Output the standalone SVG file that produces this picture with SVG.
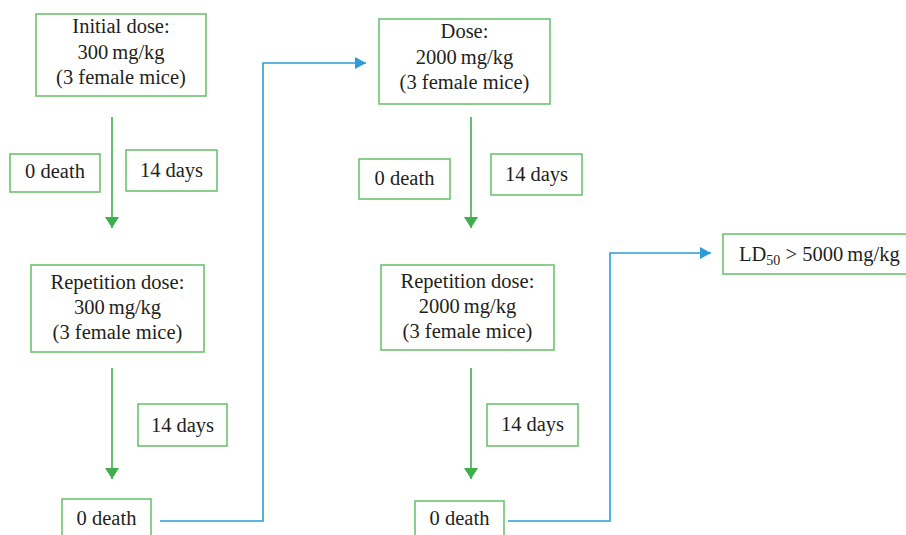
<svg xmlns="http://www.w3.org/2000/svg" width="906" height="535" viewBox="0 0 906 535">
<style>
.box{fill:#fff;stroke:#6cc46f;stroke-width:1.6}
.t{font-family:"Liberation Serif","Times New Roman",serif;font-size:20.5px;fill:#231f20;text-anchor:middle}
.g{stroke:#3fae4c;stroke-width:1.6;fill:none}
.b{stroke:#2b9cd8;stroke-width:1.6;fill:none}
</style>
<defs>
<marker id="ag" markerUnits="userSpaceOnUse" markerWidth="12" markerHeight="14" refX="11" refY="7" orient="auto"><path d="M0,0 L11,7 L0,14 z" fill="#3fae4c"/></marker>
<marker id="ab" markerUnits="userSpaceOnUse" markerWidth="12" markerHeight="12" refX="11" refY="6" orient="auto"><path d="M0,0 L11,6 L0,12 z" fill="#2b9cd8"/></marker>
</defs>
<rect width="906" height="535" fill="#fff"/>
<g id="connectors">
<line class="g" x1="112" y1="117" x2="112" y2="228" marker-end="url(#ag)"/>
<line class="g" x1="112" y1="368" x2="112" y2="479" marker-end="url(#ag)"/>
<line class="g" x1="471" y1="117" x2="471" y2="228" marker-end="url(#ag)"/>
<line class="g" x1="471" y1="368" x2="471" y2="479" marker-end="url(#ag)"/>
<path class="b" d="M160,521 H263 V63 H366" marker-end="url(#ab)"/>
<path class="b" d="M508,521 H610 V253 H711" marker-end="url(#ab)"/>
</g>
<g id="initial">
<rect class="box" x="36" y="14" width="170" height="82"/>
<text class="t" x="121" y="33">Initial dose:</text>
<text class="t" x="121" y="59">300&#8201;mg/kg</text>
<text class="t" x="121" y="84">(3 female mice)</text>
</g>
<g id="death1">
<rect class="box" x="10" y="154" width="90" height="38"/>
<text class="t" x="55" y="178">0 death</text>
</g>
<g id="days1">
<rect class="box" x="126" y="150" width="91" height="41"/>
<text class="t" x="171.5" y="177">14 days</text>
</g>
<g id="rep1">
<rect class="box" x="31" y="265" width="173" height="87"/>
<text class="t" x="117.5" y="289">Repetition dose:</text>
<text class="t" x="117.5" y="314">300&#8201;mg/kg</text>
<text class="t" x="117.5" y="339">(3 female mice)</text>
</g>
<g id="days2">
<rect class="box" x="138" y="404" width="89" height="42"/>
<text class="t" x="182.5" y="432">14 days</text>
</g>
<g id="death2">
<rect class="box" x="62" y="499" width="89" height="44"/>
<text class="t" x="106.5" y="525">0 death</text>
</g>
<g id="dose">
<rect class="box" x="379" y="19" width="171" height="85"/>
<text class="t" x="464.5" y="38">Dose:</text>
<text class="t" x="464.5" y="64">2000&#8201;mg/kg</text>
<text class="t" x="464.5" y="89">(3 female mice)</text>
</g>
<g id="death3">
<rect class="box" x="359" y="159" width="91" height="40"/>
<text class="t" x="404.5" y="185">0 death</text>
</g>
<g id="days3">
<rect class="box" x="491" y="154" width="91" height="41"/>
<text class="t" x="536.5" y="181">14 days</text>
</g>
<g id="rep2">
<rect class="box" x="381" y="265" width="173" height="85"/>
<text class="t" x="467.5" y="288">Repetition dose:</text>
<text class="t" x="467.5" y="313">2000&#8201;mg/kg</text>
<text class="t" x="467.5" y="338">(3 female mice)</text>
</g>
<g id="days4">
<rect class="box" x="487" y="404" width="91" height="42"/>
<text class="t" x="532.5" y="431">14 days</text>
</g>
<g id="death4">
<rect class="box" x="415" y="501" width="89" height="44"/>
<text class="t" x="459.5" y="525">0 death</text>
</g>
<g id="ld50">
<rect class="box" x="723" y="234" width="200" height="40"/>
<text class="t" x="739" y="261" style="text-anchor:start">LD<tspan font-size="14" dy="4">50</tspan><tspan dy="-4"> &gt; 5000&#8201;mg/kg</tspan></text>
</g>
</svg>
